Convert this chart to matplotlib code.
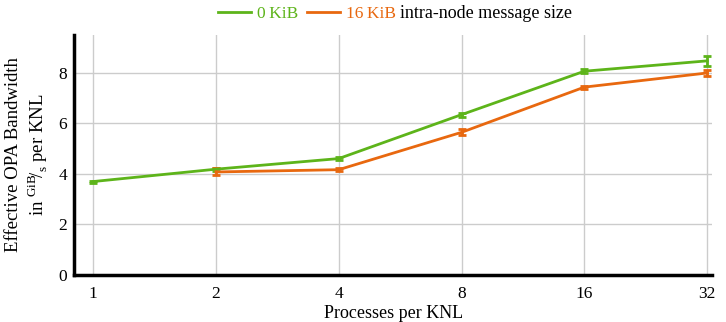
import numpy as np
import matplotlib
matplotlib.use('Agg')
import matplotlib.pyplot as plt
from matplotlib.lines import Line2D

plt.rcParams['font.family'] = ['Liberation Serif', 'DejaVu Serif']
plt.rcParams['mathtext.fontset'] = 'custom'
plt.rcParams['mathtext.rm'] = 'Liberation Serif'

procs = [1, 2, 4, 8, 16, 32]
bw_0kib = [3.70, 4.19, 4.61, 6.35, 8.07, 8.48]
err_0kib = [0.04, 0.06, 0.06, 0.08, 0.07, 0.20]
procs_16 = [2, 4, 8, 16, 32]
bw_16kib = [4.08, 4.17, 5.65, 7.44, 8.00]
err_16kib = [0.14, 0.06, 0.12, 0.06, 0.10]

green = '#5db41a'
orange = '#e8680f'

fig = plt.figure(figsize=(7.26, 3.22), dpi=100)
ax = fig.add_axes([0.102, 0.146, 0.879, 0.745])

ax.errorbar(procs, bw_0kib, yerr=err_0kib, color=green, lw=2, capsize=3,
            capthick=2, elinewidth=2, zorder=3)
ax.errorbar(procs_16, bw_16kib, yerr=err_16kib, color=orange, lw=2, capsize=3,
            capthick=2, elinewidth=2, zorder=3)

ax.set_xscale('log', base=2)
ax.set_xticks(procs)
ax.set_xticklabels([str(p) for p in procs])
ax.minorticks_off()
ax.set_xlim(2 ** -0.155, 32 * 2 ** (5 / 122.8))
ax.set_ylim(0, 9.5)
ax.set_yticks([0, 2, 4, 6, 8])
ax.grid(True, color='#cccccc', lw=1)
ax.set_axisbelow(True)
ax.tick_params(length=0, labelsize=12.5)
ax.tick_params(axis='y', pad=5)
ax.tick_params(axis='x', pad=8)
for s in ['top', 'right']:
    ax.spines[s].set_visible(False)
for s in ['left', 'bottom']:
    ax.spines[s].set_linewidth(2.5)
    ax.spines[s].set_color('black')

ax.set_xlabel('Processes per KNL', fontsize=13)
ax.xaxis.set_label_coords(0.5, -0.127)
ax.set_ylabel('Effective OPA Bandwidth\n' + r'in $^{\mathrm{GiB}}\!/_{\mathrm{s}}$ per KNL',
              fontsize=13.5, linespacing=1.15)
ax.yaxis.set_label_coords((50 - 74) / 638, 0.5)

handles = [Line2D([], [], color=green, lw=2), Line2D([], [], color=orange, lw=2)]
leg = fig.legend(handles, ['0\u2009KiB', '16\u2009KiB'], loc='center', ncol=2,
                 bbox_to_anchor=(307 / 726, 1 - 14 / 322), frameon=False,
                 fontsize=12.5, handlelength=1.9, handletextpad=0.35, columnspacing=0.45)
for t, c in zip(leg.get_texts(), [green, orange]):
    t.set_color(c)
fig.text(400 / 726, 1 - 14 / 322, 'intra-node message size', fontsize=13,
         va='center', ha='left')

fig.savefig('out.png', dpi=100)
